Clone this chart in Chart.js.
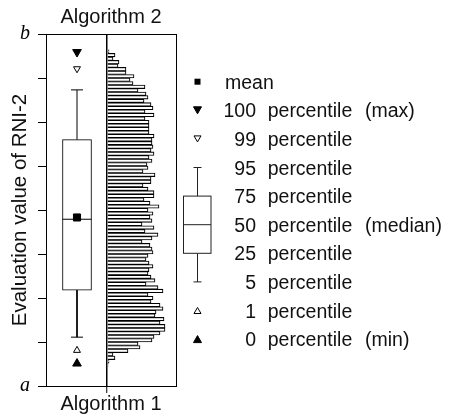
<!DOCTYPE html>
<html>
<head>
<meta charset="utf-8">
<script src="https://cdn.jsdelivr.net/npm/chart.js@4.4.1/dist/chart.umd.min.js"></script>
<style>
  body { margin: 0; background: #fff; overflow: hidden; }
  #wrap { position: relative; width: 452px; height: 419px; font-family: "Liberation Sans", Arial, sans-serif; color: #111; }
  #myChart { position: absolute; left: 0; top: 0; }
  #legendIcons { position: absolute; left: 0; top: 0; }
  .lg { position: absolute; font-size: 19.5px; height: 28px; line-height: 28px; white-space: nowrap; }
</style>
</head>
<body>
<div id="wrap">
  <canvas id="myChart" width="452" height="419"></canvas>
  <svg id="legendIcons" width="452" height="419"></svg>
  <div id="legend"></div>
</div>
<script>
// HISTOGRAM (Algorithm 1), bins listed from the top bin (7.60) downwards
const binTop = 7.60;
const binWidth = 0.08;
const freq = [
  2, 8, 6, 12, 11, 19, 19, 27, 23, 26,
  38, 31, 39, 41, 37, 44, 46, 38, 47, 38,
  42, 42, 42, 42, 47, 45, 45, 46, 44, 47,
  42, 45, 40, 41, 36, 48, 44, 44, 36, 41,
  47, 47, 37, 43, 52, 41, 46, 43, 45, 35,
  47, 38, 51, 45, 35, 43, 45, 46, 41, 39,
  42, 46, 42, 41, 44, 48, 39, 51, 56, 41,
  46, 44, 53, 56, 49, 48, 57, 53, 58, 58,
  53, 47, 45, 31, 33, 21, 6, 8, 2, 1
];

// BOX PLOT (Algorithm 2)
const pMax = 7.59;
const p99 = 7.21;
const p95 = 6.73;
const p75 = 5.60;
const p50 = 3.79;
const meanVal = 3.83;
const p25 = 2.18;
const p5 = 1.11;
const p1 = 0.81;
const pMin = 0.51;

// axis
const yTickLabels = ['a', '', '', '', '', '', '', '', 'b'];
const xMin = -61, xMax = 69;
const boxX = -30;

// legend
const legendNums = ['', '100', '99', '95', '75', '50', '25', '5', '1', '0'];
const legendNotes = ['', '(max)', '', '', '', '(median)', '', '', '', '(min)'];

const bins = freq.map((f, i) => ({ x: f, y: +(binTop - i * binWidth).toFixed(2) }));
const at = v => [{ x: boxX, y: v }];

const marker = (data, style, radius, fill, rot) => ({
  type: 'line', xAxisID: 'x', yAxisID: 'y', data: data, showLine: false,
  pointStyle: style, pointRadius: radius, pointHoverRadius: radius,
  pointBackgroundColor: fill, pointBorderColor: '#000', pointBorderWidth: 1,
  pointRotation: rot || 0
});
const whisker = (a, b) => ({
  type: 'line', xAxisID: 'x', yAxisID: 'y', data: [{ x: boxX, y: a }, { x: boxX, y: b }],
  borderColor: '#000', borderWidth: 1, pointRadius: 0
});

const sans = 'Liberation Sans';
const ctx = document.getElementById('myChart').getContext('2d');
const myChart = new Chart(ctx, {
  type: 'bar',
  data: {
    datasets: [
      marker(at(meanVal), 'rect', 5, '#000'),
      marker(at(p50), 'line', 14.5, '#000'),
      marker(at(pMax), 'triangle', 5, '#000', 180),
      marker(at(p99), 'triangle', 4, '#fff', 180),
      marker(at(p1), 'triangle', 4, '#fff'),
      marker(at(pMin), 'triangle', 5, '#000'),
      marker(at(p95).concat(at(p5)), 'line', 6, '#000'),
      whisker(p75, p95),
      whisker(p25, p5),
      {
        type: 'bar', xAxisID: 'x', yAxisID: 'yb', indexAxis: 'x', grouped: false,
        data: [{ x: boxX, y: [p25, p75] }],
        barThickness: 29, backgroundColor: '#fff', borderColor: '#000',
        borderWidth: 1, borderSkipped: false
      },
      {
        type: 'bar', xAxisID: 'x', yAxisID: 'y', indexAxis: 'y',
        data: bins,
        barPercentage: 1, categoryPercentage: 1,
        backgroundColor: '#fff', borderColor: '#000', borderWidth: 1.1
      }
    ]
  },
  options: {
    responsive: false,
    animation: false,
    layout: { padding: { left: 0, top: 0, right: 276, bottom: 0 } },
    plugins: { legend: { display: false }, tooltip: { enabled: false } },
    scales: {
      x: {
        type: 'linear', position: 'bottom', min: xMin, max: xMax, z: 1, offset: false,
        afterBuildTicks: s => { s.ticks = [{ value: 0 }]; },
        afterFit: s => { s.height = 33; },
        ticks: { display: false },
        grid: { offset: false, drawOnChartArea: true, drawTicks: true, tickLength: 7, color: '#000', lineWidth: 1.5, tickWidth: 1 },
        border: { color: '#000', width: 1 },
        title: { display: true, text: 'Algorithm 1', color: '#111', font: { family: sans, size: 20 }, padding: { top: 0, bottom: 3 } }
      },
      x2: {
        type: 'linear', position: 'top', min: xMin, max: xMax, offset: false,
        afterFit: s => { s.height = 34; },
        ticks: { display: false },
        grid: { display: false },
        border: { display: true, color: '#000', width: 1 },
        title: { display: true, text: 'Algorithm 2', color: '#111', font: { family: sans, size: 20 }, padding: { top: 5, bottom: 0 } }
      },
      y: {
        type: 'linear', position: 'left', min: 0, max: 8, offset: false,
        afterFit: s => { s.width = 46; },
        ticks: {
          stepSize: 1, padding: 8, color: '#000', autoSkip: false,
          font: { family: 'Liberation Serif', style: 'italic', size: 20 },
          callback: (v, i) => yTickLabels[i] || ''
        },
        grid: { offset: false, drawOnChartArea: false, tickLength: 8, color: '#000' },
        border: { color: '#000', width: 1 },
        title: { display: true, text: 'Evaluation value of RNI-2', color: '#111', font: { family: sans, size: 20.5 }, padding: { top: 8, bottom: 0 } }
      },
      y2: {
        type: 'linear', position: 'right', min: 0, max: 8, offset: false,
        afterFit: s => { s.width = 0; },
        ticks: { display: false },
        grid: { display: false },
        border: { display: true, color: '#000', width: 1 }
      },
      yb: { type: 'linear', position: 'left', min: 0, max: 8, offset: false, display: false }
    }
  }
});

// LEGEND
const rowY0 = 81.7, rowGap = 28.6;
const legend = document.getElementById('legend');
const addText = (txt, left, cy, width, align) => {
  const d = document.createElement('div');
  d.className = 'lg';
  d.textContent = txt;
  d.style.left = left + 'px';
  d.style.top = (cy - 14) + 'px';
  if (width) { d.style.width = width + 'px'; d.style.textAlign = align; }
  legend.appendChild(d);
};
legendNums.forEach((n, i) => {
  const cy = rowY0 + i * rowGap;
  if (i === 0) { addText('mean', 225, cy); return; }
  addText(n, 200, cy, 56, 'right');
  addText('percentile', 267.7, cy);
  if (legendNotes[i]) addText(legendNotes[i], 365, cy);
});

const ry = i => rowY0 + i * rowGap;
const cx = 197.5;
const tri = (cy, w, h, down, fill) => {
  const top = cy - h / 2, bot = cy + h / 2;
  const pts = down
    ? [[cx - w / 2, top], [cx + w / 2, top], [cx, bot]]
    : [[cx - w / 2, bot], [cx + w / 2, bot], [cx, top]];
  return '<polygon points="' + pts.map(p => p.join(',')).join(' ') + '" fill="' + fill + '" stroke="#000" stroke-width="1"/>';
};
const bx0 = 183.5, bx1 = 211;
let svg = '';
svg += '<rect x="' + (cx - 3) + '" y="' + (ry(0) - 3) + '" width="6" height="6" fill="#000"/>';
svg += tri(ry(1), 8, 7, true, '#000');
svg += tri(ry(2), 7, 6, true, '#fff');
svg += tri(ry(8), 7, 6, false, '#fff');
svg += tri(ry(9), 8, 7, false, '#000');
svg += '<g stroke="#222" stroke-width="1" fill="none">';
svg += '<line x1="' + cx + '" y1="' + ry(3) + '" x2="' + cx + '" y2="' + ry(4) + '"/>';
svg += '<line x1="' + cx + '" y1="' + ry(6) + '" x2="' + cx + '" y2="' + ry(7) + '"/>';
svg += '<line x1="' + (cx - 4) + '" y1="' + ry(3) + '" x2="' + (cx + 4) + '" y2="' + ry(3) + '"/>';
svg += '<line x1="' + (cx - 4) + '" y1="' + ry(7) + '" x2="' + (cx + 4) + '" y2="' + ry(7) + '"/>';
svg += '<rect x="' + bx0 + '" y="' + ry(4) + '" width="' + (bx1 - bx0) + '" height="' + (ry(6) - ry(4)) + '" fill="#fff"/>';
svg += '<line x1="' + bx0 + '" y1="' + ry(5) + '" x2="' + bx1 + '" y2="' + ry(5) + '"/>';
svg += '</g>';
document.getElementById('legendIcons').innerHTML = svg;
</script>
</body>
</html>
